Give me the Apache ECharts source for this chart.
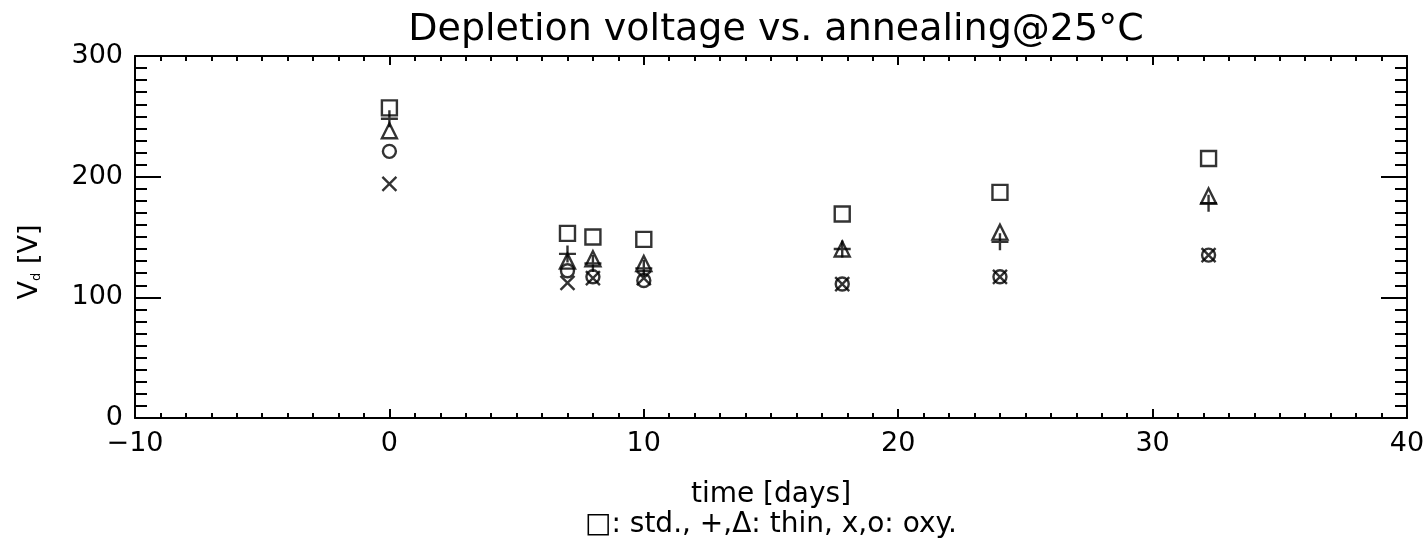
<!DOCTYPE html>
<html>
<head>
<meta charset="utf-8">
<script src="https://cdn.jsdelivr.net/npm/echarts@6/dist/echarts.min.js"></script>
<style>
  html, body { margin: 0; padding: 0; background: #fff; }
  #chart { width: 1428px; height: 546px; }
</style>
</head>
<body>
<div id="chart"></div>
<script>
// annealing time in days
var times = [0, 7, 8, 10, 17.8, 24, 32.2];
// depletion voltage [V] per sample type
var stdSq = [257, 153, 150, 148, 169, 187, 215];
var thinPlus = [248, 136, 128, 124, 140, 146, 178];
var thinTri = [238, 130, 132, 128, 140, 154, 184];
var oxyX = [194, 112, 116, 116, 111, 117, 135];
var oxyO = [221, 122, 117, 114, 111, 117, 135];

var font = 'DejaVu Sans';

function pts(vals) {
  var out = [];
  for (var i = 0; i < times.length; i++) out.push([times[i], vals[i]]);
  return out;
}

var myChart = echarts.init(document.getElementById('chart'));

function frameAxis(tickLen, minorLen, extra) {
  var a = {
    type: 'value',
    axisLine: { show: true, onZero: false, lineStyle: { color: '#000', width: 2 } },
    axisTick: { show: true, inside: true, length: tickLen, lineStyle: { color: '#000', width: 2 } },
    minorTick: { show: true, splitNumber: 10, length: minorLen, lineStyle: { color: '#000', width: 2 } },
    splitLine: { show: false },
    axisLabel: { show: false }
  };
  for (var k in extra) a[k] = extra[k];
  return a;
}

function mk(name, symbol, size, vals) {
  return {
    name: name,
    type: 'scatter',
    symbol: symbol,
    symbolSize: size,
    xAxisIndex: 0,
    yAxisIndex: 0,
    itemStyle: { color: 'rgba(0,0,0,0)', borderColor: '#000', borderWidth: 2.4 },
    data: pts(vals)
  };
}

var option = {
  animation: false,
  backgroundColor: '#fff',
  title: {
    text: 'Depletion voltage vs. annealing@25°C',
    left: 771,
    textAlign: 'center',
    top: 6,
    textStyle: { fontFamily: font, fontSize: 38, fontWeight: 'normal', color: '#000' }
  },
  grid: { left: 135, right: 21, top: 56, bottom: 128 },
  xAxis: [
    frameAxis(9, 5, {
      min: -10, max: 40, interval: 10, position: 'bottom',
      axisLabel: {
        show: true, margin: 12, color: '#000', fontFamily: font, fontSize: 27,
        formatter: function (v) { return String(v).replace('-', '\u2212'); }
      },
      name: 'time [days]\n\u25a1: std., +,\u0394: thin, x,o: oxy.',
      nameLocation: 'middle',
      nameGap: 62,
      nameTextStyle: { fontFamily: font, fontSize: 28, color: '#000', lineHeight: 30 }
    }),
    frameAxis(9, 5, { min: -10, max: 40, interval: 10, position: 'top' })
  ],
  yAxis: [
    frameAxis(26, 12, {
      min: 0, max: 300, interval: 100, position: 'left',
      axisLabel: { show: true, margin: 12, color: '#000', fontFamily: font, fontSize: 27 },
      name: '{v|V}{s|d}{v| [V]}',
      nameLocation: 'middle',
      nameRotate: 90,
      nameGap: 92,
      nameTextStyle: {
        padding: [0, 50, 0, 0],
        rich: {
          v: { fontFamily: font, fontSize: 27, color: '#000' },
          s: { fontFamily: font, fontSize: 13, color: '#000', verticalAlign: 'bottom' }
        }
      }
    }),
    frameAxis(26, 12, { min: 0, max: 300, interval: 100, position: 'right' })
  ],
  series: [
    mk('std', 'rect', 15, stdSq),
    mk('thin +', 'path://M5 0 L5 10 M0 5 L10 5', 17, thinPlus),
    mk('thin tri', 'triangle', 15, thinTri),
    mk('oxy x', 'path://M0 0 L10 10 M10 0 L0 10', 14, oxyX),
    mk('oxy o', 'circle', 13, oxyO)
  ]
};

option && myChart.setOption(option);
</script>
</body>
</html>
